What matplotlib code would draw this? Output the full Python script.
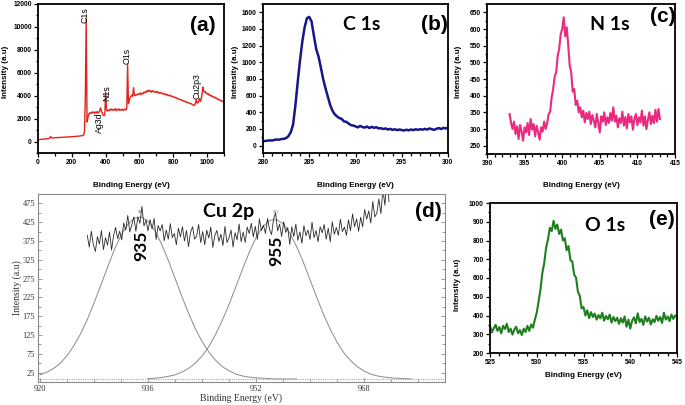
import numpy as np
import matplotlib
matplotlib.use('Agg')
import matplotlib.pyplot as plt
from matplotlib.ticker import MultipleLocator

# ---------------- data ----------------
# (a) survey spectrum, 5 eV grid 0..1100
survey_start, survey_stop, survey_step = 0, 1100, 5
survey_counts = [
    150, 170, 160, 190, 185, 210, 200, 225, 215, 240, 235, 260, 250, 280, 300, 450, 330, 300, 310, 320,
    325, 340, 330, 350, 345, 360, 350, 370, 362, 380, 372, 388, 380, 395, 390, 402, 395, 410, 405, 418,
    420, 430, 425, 440, 450, 445, 460, 470, 465, 480, 490, 500, 510, 520, 560, 900, 4000, 10700, 1700, 2100,
    2350, 2500, 2450, 2550, 2480, 2600, 2520, 2450, 2580, 2500, 2620, 2480, 2550, 2700, 2950, 2650, 2500, 2300, 2250, 2350,
    4300, 2800, 2650, 2750, 2700, 2800, 2720, 2850, 2780, 2700, 2820, 2750, 2880, 2700, 2800, 2760, 2850, 2700, 2800, 2750,
    2820, 2700, 2780, 2850, 2750, 2900, 6700, 3300, 3600, 3850, 3950, 4050, 3950, 4700, 4050, 4000, 4100, 4050, 4150, 4100,
    4150, 4250, 4100, 4200, 4150, 4300, 4250, 4350, 4300, 4450, 4350, 4500, 4380, 4420, 4300, 4450, 4350, 4400, 4280, 4350,
    4300, 4380, 4250, 4300, 4200, 4280, 4180, 4220, 4150, 4200, 4100, 4150, 4050, 4100, 4000, 4050, 3980, 4020, 3920, 3950,
    3880, 3900, 3820, 3850, 3760, 3780, 3700, 3720, 3640, 3660, 3580, 3600, 3520, 3540, 3460, 3480, 3400, 3430, 3350, 3380,
    3300, 3320, 3250, 3200, 3180, 3150, 3300, 3650, 3400, 3350, 3500, 3750, 3500, 3700, 4100, 4750, 4400, 4300, 4350, 4200,
    4150, 4200, 4050, 4100, 3980, 4020, 3900, 3950, 3850, 3880, 3780, 3800, 3700, 3720, 3620, 3650, 3560, 3580, 3480, 3500,
    3420,
]
survey_labels = ["C1s", "Ag3d", "N1s", "O1s", "Cu2p3"]
survey_label_x = [278, 366, 405, 528, 940]
survey_label_y = [11000, 1650, 4250, 7500, 4800]

# (b) C 1s, 0.25 eV grid 280..300
c1s_start, c1s_stop = 280.0, 300.0
c1s_counts = [
    52, 55, 58, 62, 60, 68, 72, 70, 78, 80, 90, 112, 160, 250, 480, 760, 1020, 1250, 1420, 1530,
    1545, 1490, 1320, 1160, 1070, 940, 800, 690, 590, 490, 420, 375, 350, 330, 320, 290, 285, 265, 245, 240,
    230, 218, 235, 222, 215, 228, 210, 225, 212, 220, 205, 208, 198, 205, 192, 200, 188, 195, 185, 192,
    186, 180, 190, 182, 192, 185, 195, 188, 196, 190, 200, 192, 205, 196, 188, 200, 210, 198, 212, 205,
    215,
]

# (c) N 1s, 0.2 eV grid 393..413
n1s_start, n1s_stop = 393.0, 413.0
n1s_counts = [
    345, 318, 300, 322, 285, 308, 270, 312, 292, 265, 305, 290, 318, 282, 330, 298, 315, 278, 310, 290,
    268, 305, 292, 322, 300, 318, 345, 352, 395, 420, 458, 470, 520, 540, 585, 600, 635, 578, 605, 552,
    490, 470, 412, 420, 372, 385, 350, 365, 335, 355, 320, 348, 330, 352, 315, 342, 325, 305, 345, 318,
    290, 338, 322, 350, 312, 335, 318, 348, 325, 365, 322, 340, 305, 332, 318, 352, 310, 336, 302, 345,
    320, 338, 298, 330, 345, 312, 335, 320, 355, 310, 338, 300, 328, 350, 315, 340, 318, 358, 322, 360,
    330,
]

# (d) Cu 2p raw data, 0.3 eV grid 927.0..971.7
cu_start, cu_stop = 927.0, 971.7
cu_counts = [
    390, 359, 401, 366, 347, 387, 367, 403, 352, 384, 364, 399, 351, 390, 411, 381, 401, 378, 423, 404,
    443, 399, 418, 439, 401, 439, 422, 467, 415, 431, 402, 432, 407, 435, 379, 416, 402, 419, 376, 404,
    380, 421, 384, 395, 365, 409, 386, 413, 375, 403, 360, 398, 413, 380, 388, 419, 371, 400, 365, 404,
    383, 412, 358, 389, 403, 374, 393, 363, 414, 371, 384, 404, 359, 397, 378, 420, 373, 399, 371, 412,
    395, 422, 386, 414, 379, 434, 403, 417, 395, 435, 406, 392, 433, 450, 402, 420, 387, 426, 398, 411,
    366, 413, 387, 420, 377, 399, 369, 416, 389, 404, 379, 425, 384, 403, 373, 413, 397, 419, 380, 409,
    373, 426, 393, 411, 390, 433, 400, 412, 390, 431, 402, 447, 413, 434, 401, 438, 413, 459, 433, 455,
    423, 480, 439, 449, 487, 448, 512, 470, 547, 480,
]
# fitted components (read at 1 eV)
fit1_start, fit1_stop = 920, 958
fit1_counts = [19, 26, 36, 50, 70, 96, 128, 166, 210, 257, 305, 351, 390, 419, 436, 439, 428, 403, 367, 324,
               276, 228, 183, 142, 108, 80, 58, 41, 30, 21, 16, 13, 11, 10, 9, 8, 8, 8, 8]
fit2_start, fit2_stop = 936, 975
fit2_counts = [9, 10, 12, 15, 19, 26, 36, 50, 69, 94, 126, 164, 206, 253, 300, 345, 384, 413, 430, 432,
               421, 396, 361, 319, 272, 225, 180, 140, 106, 78, 57, 41, 29, 21, 16, 13, 11, 10, 9, 8]
cu_baseline = 8
cu_peaks = [935, 955]
cu_peak_label_y = [363, 350]
cu_xticks = [920, 936, 952, 968]

# (e) O 1s, 0.2 eV grid 525..545
o1s_start, o1s_stop = 525.0, 545.0
o1s_counts = [
    345, 310, 332, 350, 318, 338, 305, 345, 328, 356, 312, 330, 298, 325, 340, 305, 322, 296, 330, 312,
    345, 318, 352, 335, 378, 415, 476, 540, 628, 680, 762, 805, 868, 850, 905, 862, 885, 835, 858, 800,
    812, 748, 770, 695, 688, 618, 602, 528, 505, 438, 445, 400, 428, 386, 418, 392, 410, 378, 402, 385,
    415, 372, 398, 380, 405, 362, 392, 370, 388, 355, 385, 362, 395, 340, 378, 330, 372, 390, 358, 412,
    365, 382, 350, 395, 368, 388, 352, 380, 365, 398, 372, 392, 360, 415, 378, 395, 370, 405, 382, 400,
    392,
]

# ---------------- figure ----------------
W, H = 685, 405
fig = plt.figure(figsize=(W / 100, H / 100), dpi=100)
fig.patch.set_facecolor('white')

SANS = ['Liberation Sans', 'DejaVu Sans']
SERIF = ['Liberation Serif', 'DejaVu Serif']
TITLE = ['Lato', 'DejaVu Sans']
TSIZE = 14


def box(l, t, r, b):
    return fig.add_axes([l / W, 1 - b / H, (r - l) / W, (b - t) / H])


def style_sans(ax, xlim, ylim, xmaj, xmin, ymaj, ymin, xl_y, yl_x, yl_y=0.5):
    ax.set_xlim(*xlim)
    ax.set_ylim(*ylim)
    ax.xaxis.set_major_locator(MultipleLocator(xmaj))
    ax.xaxis.set_minor_locator(MultipleLocator(xmin))
    ax.yaxis.set_major_locator(MultipleLocator(ymaj))
    ax.yaxis.set_minor_locator(MultipleLocator(ymin))
    ax.tick_params(which='both', direction='out', labelsize=4.8, width=0.9, pad=1.5)
    ax.tick_params(which='major', length=3)
    ax.tick_params(which='minor', length=1.8)
    for s in ax.spines.values():
        s.set_linewidth(1.3)
    for lab in ax.get_xticklabels() + ax.get_yticklabels():
        lab.set_fontweight('bold')
        lab.set_family(SANS)
    ax.set_xlabel('Binding Energy (eV)', fontsize=5.8, fontweight='bold', family=SANS, va='center')
    ax.xaxis.set_label_coords(0.5, xl_y)
    ax.set_ylabel('Intensity (a.u)', fontsize=5.8, fontweight='bold', family=SANS, va='center')
    ax.yaxis.set_label_coords(yl_x, yl_y)


def grid(a, b, n):
    return np.linspace(a, b, n)


# (a)
axa = box(38, 4, 224, 153)
sx = grid(survey_start, survey_stop, len(survey_counts))
axa.plot(sx, survey_counts, color='#E3241B', lw=1.0)
style_sans(axa, (0, 1100), (-1000, 12000), 200, 100, 2000, 1000, -0.221, -0.177, 0.544)
for t, x, y in zip(survey_labels, survey_label_x, survey_label_y):
    axa.text(x, y, t, rotation=90, ha='center', va='center', fontsize=6.3, family=SANS)
axa.text(0.885, 0.855, '(a)', transform=axa.transAxes, fontsize=15, fontweight='bold',
         family=SANS, ha='center', va='center')

# (b)
axb = box(263, 4, 448, 153)
bx = grid(c1s_start, c1s_stop, len(c1s_counts))
axb.plot(bx, c1s_counts, color='#16168A', lw=1.8)
style_sans(axb, (280, 300), (-90, 1700), 5, 1, 200, 100, -0.221, -0.151, 0.544)
axb.text(0.535, 0.86, 'C 1s', transform=axb.transAxes, fontsize=TSIZE, fontweight='bold',
         family=TITLE, ha='center', va='center')
axb.text(0.925, 0.86, '(b)', transform=axb.transAxes, fontsize=15, fontweight='bold',
         family=SANS, ha='center', va='center')

# (c)
axc = box(487, 4, 675, 154)
cx = grid(n1s_start, n1s_stop, len(n1s_counts))
axc.plot(cx, n1s_counts, color='#EA2A7E', lw=1.5)
style_sans(axc, (390, 415), (225, 675), 5, 1, 50, 25, -0.213, -0.154, 0.547)
axc.text(0.655, 0.86, 'N 1s', transform=axc.transAxes, fontsize=TSIZE, fontweight='bold',
         family=TITLE, ha='center', va='center')
axc.text(0.935, 0.92, '(c)', transform=axc.transAxes, fontsize=15, fontweight='bold',
         family=SANS, ha='center', va='center')

# (d)
axd = box(38, 194, 445, 382)
dx = grid(cu_start, cu_stop, len(cu_counts))
f1x = grid(fit1_start, fit1_stop, len(fit1_counts))
f2x = grid(fit2_start, fit2_stop, len(fit2_counts))
gray = '#8a8a8a'
axd.plot(f1x, fit1_counts, color=gray, lw=0.7)
axd.plot(f2x, fit2_counts, color=gray, lw=0.7)
axd.axhline(cu_baseline, color='#aaaaaa', lw=0.8, ls=(0, (1, 1)))
axd.plot(dx, cu_counts, color='#2a2a2a', lw=0.6)
axd.set_xlim(919.7, 980)
axd.set_ylim(0, 500)
axd.set_xticks(cu_xticks)
axd.xaxis.set_minor_locator(MultipleLocator(4))
axd.set_yticks(np.arange(25, 500, 50))
axd.yaxis.set_minor_locator(MultipleLocator(25))
axd.tick_params(which='both', direction='in', labelsize=6, width=0.6, color=gray,
                labelcolor='#333333', right=True, pad=2)
axd.tick_params(which='major', length=3)
axd.tick_params(which='minor', length=2)
for s in axd.spines.values():
    s.set_color(gray)
    s.set_linewidth(0.8)
for lab in axd.get_xticklabels() + axd.get_yticklabels():
    lab.set_family(SERIF)
axd.set_xlabel('Binding Energy (eV)', fontsize=7, family=SERIF, color='#333333', va='center')
axd.xaxis.set_label_coords(0.5, -0.085)
axd.set_ylabel('Intensity (a.u)', fontsize=7, family=SERIF, color='#333333', va='center')
axd.yaxis.set_label_coords(-0.052, 0.5)
for p, ly in zip(cu_peaks, cu_peak_label_y):
    axd.text(p, ly, str(p), rotation=90, ha='center', va='center', fontsize=12.5,
             fontweight='bold', family=TITLE)
    axd.text(p, 452, str(p), ha='center', va='center', fontsize=3, color='#555555', family=SERIF)
axd.text(0.469, 0.905, 'Cu 2p', transform=axd.transAxes, fontsize=TSIZE, fontweight='bold',
         family=TITLE, ha='center', va='center')
axd.text(0.96, 0.905, '(d)', transform=axd.transAxes, fontsize=15, fontweight='bold',
         family=SANS, ha='center', va='center')

# (e)
axe = box(490, 203, 677, 353)
ex = grid(o1s_start, o1s_stop, len(o1s_counts))
axe.plot(ex, o1s_counts, color='#1F7F1F', lw=1.5)
style_sans(axe, (525, 545), (200, 1000), 5, 1, 100, 50, -0.153, -0.176, 0.453)
axe.text(0.615, 0.853, 'O 1s', transform=axe.transAxes, fontsize=TSIZE, fontweight='bold',
         family=TITLE, ha='center', va='center')
axe.text(0.92, 0.887, '(e)', transform=axe.transAxes, fontsize=15, fontweight='bold',
         family=SANS, ha='center', va='center')

fig.savefig('out.png', dpi=100, facecolor='white')
